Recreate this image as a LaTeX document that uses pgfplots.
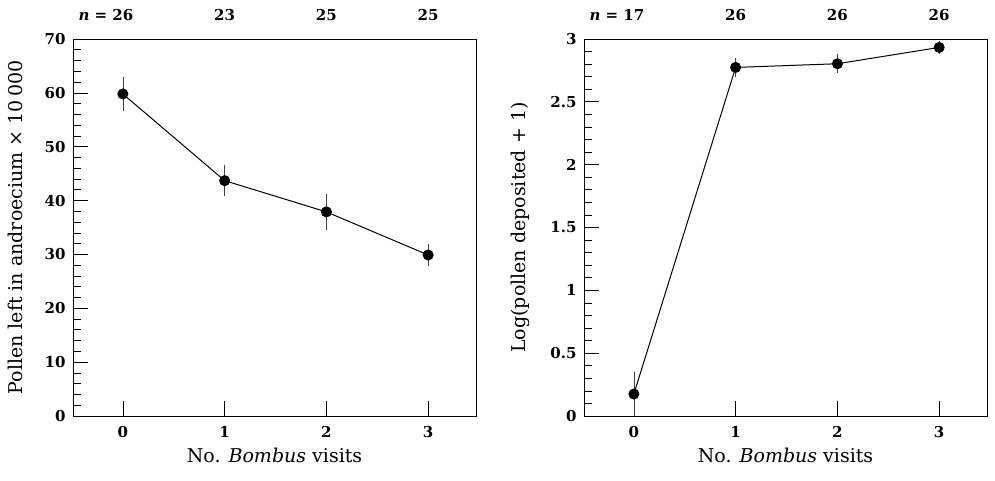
\documentclass[border=0pt]{standalone}
\usepackage{fontspec}
\setmainfont{DejaVu Serif}
\usepackage{pgfplots}
\pgfplotsset{compat=1.18}

\tikzset{nlab/.style={font=\fontsize{15}{18}\selectfont\bfseries, anchor=base, yshift=19pt}}

\pgfplotsset{
  panel/.style={
    scale only axis,
    width=403pt, height=377pt,
    xmin=-0.49, xmax=3.47,
    xtick={0,1,2,3},
    tick align=inside,
    xtick pos=bottom, ytick pos=left,
    major tick length=15pt, minor tick length=8pt,
    minor y tick num=4,
    tick style={black, line width=0.7pt},
    axis line style={line width=0.8pt},
    ticklabel style={font=\fontsize{15}{18}\selectfont\bfseries},
    xticklabel style={yshift=-7pt},
    yticklabel style={xshift=-4pt},
    label style={font=\fontsize{19}{22}\selectfont},
    /pgf/number format/assume math mode=true,
    xlabel={No. \textit{Bombus} visits},
    xlabel style={at={(axis description cs:0.5,0)}, anchor=center, yshift=-39pt},
    clip=false,
  },
  pts/.style={
    black, line width=1pt, mark=*, mark size=5pt,
    mark options={fill=black, draw=black},
    error bars/.cd, y dir=both, y explicit,
    error mark=none,
    error bar style={line width=0.7pt, black!75},
  },
}

\begin{document}
\begin{tikzpicture}
\useasboundingbox (-73pt,-64pt) rectangle (922pt,416pt);

\begin{axis}[panel,
  ymin=0, ymax=70, ytick={0,10,...,70},
  ylabel={Pollen left in androecium × 10\,000},
  ylabel style={at={(axis description cs:-0.144,0.5)}, anchor=center},
]
\addplot[pts] coordinates {
  (0,59.8) +- (0,3.1)
  (1,43.7) +- (0,2.9)
  (2,37.9) +- (0,3.3)
  (3,29.9) +- (0,2.1)
};
\node[nlab] at (axis cs:0,70) {\llap{\textit{n} = }26};
\node[nlab] at (axis cs:1,70) {23};
\node[nlab] at (axis cs:2,70) {25};
\node[nlab] at (axis cs:3,70) {25};
\end{axis}

\begin{axis}[panel, at={(511pt,0pt)},
  ymin=0, ymax=3, ytick={0,0.5,...,3},
  ylabel={Log(pollen deposited + 1)},
  ylabel style={at={(axis description cs:-0.159,0.5)}, anchor=center},
]
\addplot[pts] coordinates {
  (0,0.175) +- (0,0.175)
  (1,2.774) +- (0,0.075)
  (2,2.803) +- (0,0.075)
  (3,2.933) +- (0,0.05)
};
\node[nlab] at (axis cs:0,3) {\llap{\textit{n} = }17};
\node[nlab] at (axis cs:1,3) {26};
\node[nlab] at (axis cs:2,3) {26};
\node[nlab] at (axis cs:3,3) {26};
\end{axis}
\end{tikzpicture}
\end{document}
